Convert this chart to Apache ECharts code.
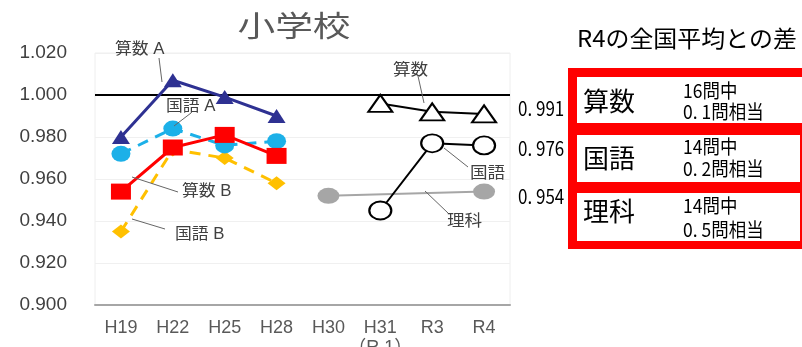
<!DOCTYPE html>
<html><head><meta charset="utf-8">
<script src="https://cdn.jsdelivr.net/npm/echarts@6/dist/echarts.min.js"></script>
<style>html,body{margin:0;padding:0;background:#fff}#c{width:802px;height:347px}</style>
</head><body><div id="c"></div>
<script>
const categories = ['H19','H22','H25','H28','H30','H31\n（R 1）','R3','R4'];
const yTicks = [0.900,0.920,0.940,0.960,0.980,1.000,1.020];
const sansuA  = [0.980,1.007,0.999,0.990,'-','-','-','-'];
const kokugoA = [0.972,0.984,0.976,0.978,'-','-','-','-'];
const sansuB  = [0.954,0.975,0.981,0.971,'-','-','-','-'];
const kokugoB = [0.935,0.974,0.970,0.958,'-','-','-','-'];
const sansuR  = ['-','-','-','-','-',0.996,0.992,0.991];
const kokugoR = ['-','-','-','-','-',0.945,0.977,0.976];
const rikaR   = ['-','-','-','-',0.952,'-','-',0.954];
const valueLabels = ['0. 991','0. 976','0. 954'];
const panelTitle = 'R4の全国平均との差';
const panelRows = [['算数','16問中','0. 1問相当'],['国語','14問中','0. 2問相当'],['理科','14問中','0. 5問相当']];

const LAT = "'Liberation Sans','Noto Sans CJK JP',sans-serif";
const JP = "'Noto Sans CJK JP',sans-serif";
const chart = echarts.init(document.getElementById('c'), null, {renderer:'canvas'});

function txt(x,y,t,size,opt){
  opt = opt||{};
  return {type:'text', x:x, y:y, scaleX:opt.sx||1, z:100,
    style:{text:t, fill:opt.color||'#000', font:(opt.weight||'normal')+' '+size+'px '+(opt.family||JP),
      textAlign:opt.align||'left', textVerticalAlign:'middle'}};
}
function seg(x1,y1,x2,y2){
  return {type:'line', z:100, shape:{x1:x1,y1:y1,x2:x2,y2:y2}, style:{stroke:'#666', lineWidth:1}};
}
const g = [];
g.push(txt(294,26,'小学校',29,{color:'#595959',align:'center',sx:1.3}));
// annotations
const annC = '#404040';
g.push(txt(115,50,'算数 A',16,{color:annC,family:LAT,sx:1.05}));
g.push(seg(159,58,162,82));
g.push(txt(166,107,'国語 A',16,{color:annC,family:LAT,sx:1.05}));
g.push(seg(191,113,174,126));
g.push(txt(182,192,'算数 B',16,{color:annC,family:LAT,sx:1.05}));
g.push(seg(132,177,178,192));
g.push(txt(175,235,'国語 B',16,{color:annC,family:LAT,sx:1.05}));
g.push(seg(132,219,165,229));
g.push(txt(393,69,'算数',16,{color:annC,sx:1.1}));
g.push(seg(418,76,424,103));
g.push(txt(470,172,'国語',16,{color:annC,sx:1.1}));
g.push(seg(444,148,468,167));
g.push(txt(447,220,'理科',16,{color:annC,sx:1.1}));
g.push(seg(425,191,448,213));
// value labels
const vY = [108,148,196];
valueLabels.forEach((t,i)=>g.push(txt(518,vY[i],t,20,{color:'#000',sx:0.85})));
// right panel
g.push(txt(577,38,panelTitle,23,{color:'#000',sx:1.04}));
g.push({type:'rect', z:90, shape:{x:568,y:68,width:240,height:181}, style:{fill:'#ff0000'}});
const boxes = [[77,46],[135,47],[193,48]];
boxes.forEach((b,i)=>{
  g.push({type:'rect', z:91, shape:{x:577,y:b[0],width:i===0?230:223,height:b[1]}, style:{fill:'#fff'}});
});
const rowC = [[101,91,112],[158,147,169],[211,206,230]];
panelRows.forEach((r,i)=>{
  g.push(txt(583,rowC[i][0],r[0],26,{color:'#000'}));
  g.push(txt(683,rowC[i][1],r[1],19,{color:'#000',sx:0.92}));
  g.push(txt(683,rowC[i][2],r[2],19,{color:'#000',sx:0.92}));
});

const option = {
  animation:false,
  backgroundColor:'#fff',
  grid:{left:95, right:292, top:53, bottom:42, outerBoundsMode:'none', containLabel:false,
    show:true, borderColor:'#eeeeee', borderWidth:1, backgroundColor:'#fff'},
  xAxis:{type:'category', data:categories, boundaryGap:true,
    axisLine:{lineStyle:{color:'#a6a6a6', width:2}}, axisTick:{show:false},
    axisLabel:{color:'#595959', fontSize:18, fontFamily:LAT, margin:13, lineHeight:20, interval:0}},
  yAxis:{type:'value', min:yTicks[0], max:yTicks[yTicks.length-1], interval:0.02,
    axisLine:{show:false}, axisTick:{show:false},
    splitLine:{lineStyle:{color:'#f0f0f0', width:1}},
    axisLabel:{color:'#404040', fontSize:19, fontFamily:LAT, margin:28, formatter:v=>v.toFixed(3)}},
  series:[
    {name:'国語B', type:'line', data:kokugoB, symbol:'diamond', symbolSize:[18,14],
      itemStyle:{color:'#ffc000'}, lineStyle:{color:'#ffc000', width:3, type:[11,8]}, z:2},
    {name:'国語A', type:'line', data:kokugoA, symbol:'circle', symbolSize:[19,16],
      itemStyle:{color:'#1cb0e8'}, lineStyle:{color:'#1cb0e8', width:3, type:[11,8]}, z:3},
    {name:'算数B', type:'line', data:sansuB, symbol:'rect', symbolSize:[20,16],
      itemStyle:{color:'#ff0000'}, lineStyle:{color:'#ff0000', width:3}, z:4},
    {name:'算数A', type:'line', data:sansuA, symbol:'triangle', symbolSize:[18,14],
      itemStyle:{color:'#2e3192'}, lineStyle:{color:'#2e3192', width:3}, z:5,
      markLine:{silent:true, symbol:'none', label:{show:false},
        lineStyle:{color:'#000', width:2, type:'solid'}, data:[{yAxis:1.0}]}},
    {name:'理科', type:'line', data:rikaR, connectNulls:true, symbol:'circle', symbolSize:[22,16],
      itemStyle:{color:'#a6a6a6'}, lineStyle:{color:'#a6a6a6', width:2}, z:3},
    {name:'国語R', type:'line', data:kokugoR, symbol:'circle', symbolSize:[22,18],
      itemStyle:{color:'#fff', borderColor:'#000', borderWidth:2}, lineStyle:{color:'#000', width:2}, z:4},
    {name:'算数R', type:'line', data:sansuR, symbol:'triangle', symbolSize:[24,17],
      itemStyle:{color:'#fff', borderColor:'#000', borderWidth:2}, lineStyle:{color:'#000', width:2}, z:5}
  ],
  graphic:g
};
chart.setOption(option);
</script></body></html>
